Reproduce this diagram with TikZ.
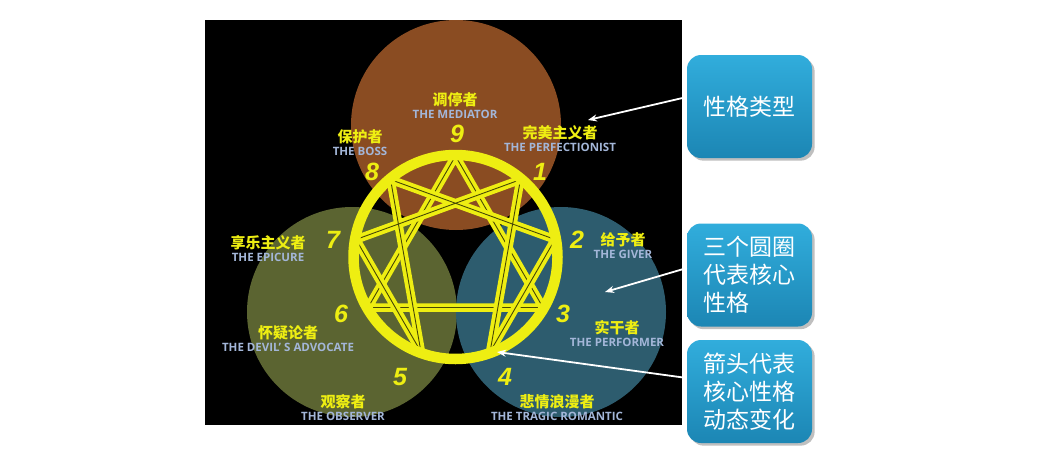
\documentclass[tikz,border=0pt]{standalone}
\usepackage{fontspec}
\setmainfont{Liberation Sans}
\newfontfamily\cjk{Noto Sans CJK SC}
\newfontfamily\ensans{Open Sans}
\usetikzlibrary{positioning,shadows,arrows.meta}
\definecolor{ennyellow}{HTML}{EEEE12}
\definecolor{ennbrown}{HTML}{8A4C22}
\definecolor{enngreen}{HTML}{5B6431}
\definecolor{enncyan}{HTML}{2D5C6E}
\definecolor{ennblue}{HTML}{A3B6D8}
\definecolor{boxtop}{HTML}{31ADDC}
\definecolor{boxbottom}{HTML}{1C86B4}

\begin{document}
\begin{tikzpicture}
[ x=1pt, y=-1pt
, ring/.style={draw=ennyellow, line width=10.5pt}
, eline/.style={draw=ennyellow!30!black, line width=0.9pt, preaction={draw=ennyellow, line width=8.5pt}}
, number/.style={inner sep=0pt, text=ennyellow, font=\bfseries\itshape\fontsize{25}{25}\selectfont}
, cname/.style={inner sep=0pt, text=ennyellow, font=\cjk\bfseries\fontsize{15}{15}\selectfont}
, ename/.style={inner sep=0pt, text=ennblue, font=\ensans\bfseries\fontsize{11.5}{11.5}\selectfont}
, infobox/.style={rectangle, rounded corners=14pt, minimum width=125pt, minimum height=103pt, top color=boxtop, bottom color=boxbottom, drop shadow, text=white, align=left, font=\cjk\fontsize{23}{28}\selectfont}
, pointer/.style={draw=white, line width=1.8pt, -{Stealth[length=9pt,width=7pt]}}
]
\useasboundingbox [fill=white] (0,0) rectangle (1040,458);
\fill [black] (205,20) rectangle (682,425);
% The three centres:
\fill [ennbrown] (456,125) circle (105pt);
\fill [enngreen] (352,312) circle (105pt);
\fill [enncyan] (561,312) circle (105pt);
% The enneagram:
\coordinate (c) at (455.5,257);
\foreach \n/\a in {9/90, 1/50, 2/10, 3/-30, 4/-70, 5/-110, 6/-150, 7/170, 8/130}
  \path (c) ++(\a:101pt) coordinate (v\n);
\begin{scope}
\clip (c) circle (102pt);
\draw [eline] (v9) -- (v3) -- (v6) -- cycle;
\draw [eline] (v1) -- (v4) -- (v2) -- (v8) -- (v5) -- (v7) -- cycle;
\end{scope}
\draw [ring] (c) circle (102pt);
\foreach \n/\px/\py in {9/457/134, 1/540/172, 2/577/240, 3/563/314, 4/505/377, 5/400/377, 6/341/314, 7/333/240, 8/372/172}
  \node (d\n) at (\px,\py) [number] {\n};
% Type names:
\foreach \n/\px/\py/\cn/\en in
  { 9/455/100/调停者/THE MEDIATOR
  , 1/560/133/完美主义者/THE PERFECTIONIST
  , 2/623/240/给予者/THE GIVER
  , 3/617/328/实干者/THE PERFORMER
  , 4/557/402/悲情浪漫者/THE TRAGIC ROMANTIC
  , 5/343/402/观察者/THE OBSERVER
  , 6/288/333/怀疑论者/THE DEVIL’ S ADVOCATE
  , 7/268/243/享乐主义者/THE EPICURE
  , 8/360/137/保护者/THE BOSS
  }
{ \node (c\n) at (\px,\py) [cname] {\cn};
  \node (e\n) [ename, below=2.5pt of c\n] {\en};
}
% Boxes on the right:
\node (box1) at (749.5,106.5) [infobox] {性格类型};
\node (box2) at (749.5,275) [infobox] {三个圆圈\\代表核心\\性格};
\node (box3) at (749.5,391.5) [infobox] {箭头代表\\核心性格\\动态变化};
\coordinate (a1) at (588,120);
\coordinate (a2) at (605,292);
\coordinate (a3) at (497,352);
\draw [pointer] ([yshift=9.5pt]box1.west) -- (a1);
\draw [pointer] ([yshift=7pt]box2.west) -- (a2);
\draw [pointer] ([yshift=13.5pt]box3.west) -- (a3);
\end{tikzpicture}
\end{document}
